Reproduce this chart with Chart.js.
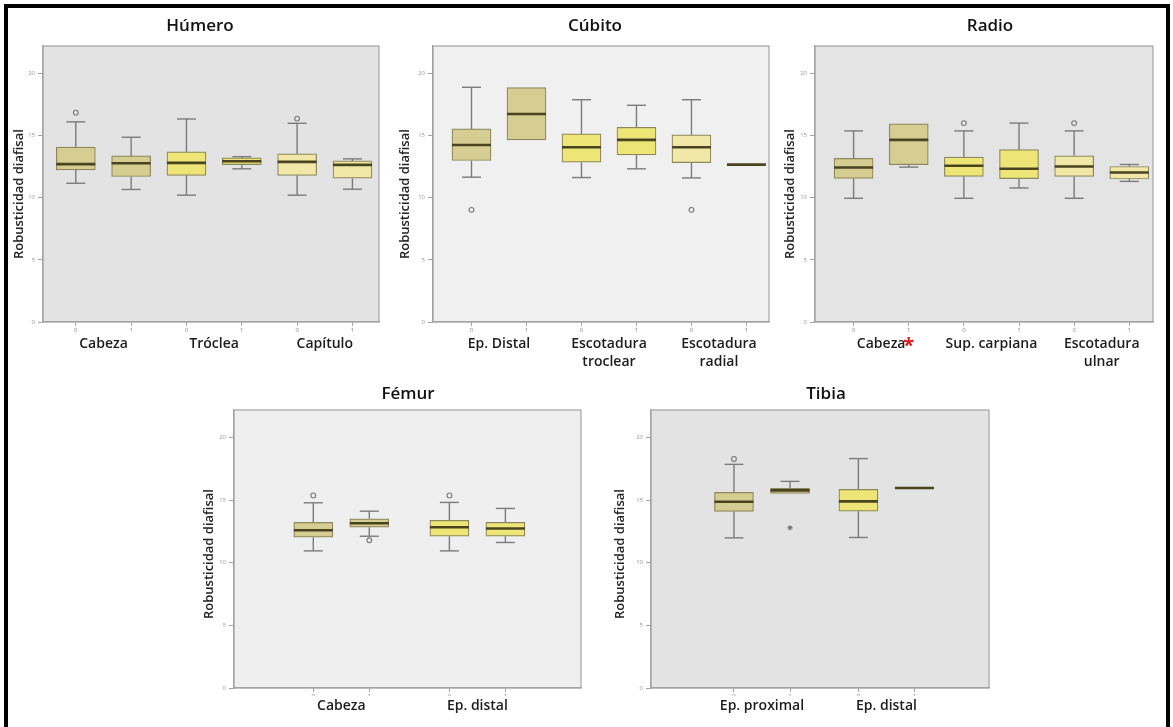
<!DOCTYPE html>
<html>
<head>
<meta charset="utf-8">
<script src="https://cdn.jsdelivr.net/npm/chart.js@4"></script>
<style>
html,body{margin:0;padding:0;background:#fff;width:1173px;height:727px;overflow:hidden;position:relative}
#frame{position:absolute;left:4px;top:4px;width:1166px;height:760px;border:4px solid #000;box-sizing:border-box}
canvas{position:absolute}
</style>
</head>
<body>
<div id="frame"></div>
<canvas id="humero" width="410" height="362" style="left:-5px;top:10px"></canvas>
<canvas id="cubito" width="406" height="362" style="left:392px;top:10px"></canvas>
<canvas id="radio" width="416" height="362" style="left:782px;top:10px"></canvas>
<canvas id="femur" width="424" height="352" style="left:196px;top:374px"></canvas>
<canvas id="tibia" width="432" height="352" style="left:610px;top:374px"></canvas>
<script>
// ---------------- DATA ----------------
const Y_TICKS = [0, 5, 10, 15, 20];
const CODES = ['0', '1'];
const Y_TITLE = 'Robusticidad diafisal';

// Húmero (per group: code 0, code 1)
const humeroGroups = ['Cabeza', 'Tróclea', 'Capítulo'];
const humeroLow    = [11.16, 10.66, 10.20, 12.32, 10.20, 10.68];
const humeroQ1     = [12.24, 11.70, 11.80, 12.66, 11.80, 11.57];
const humeroMedian = [12.70, 12.77, 12.80, 12.93, 12.88, 12.64];
const humeroQ3     = [14.06, 13.36, 13.68, 13.20, 13.52, 12.96];
const humeroHigh   = [16.10, 14.86, 16.33, 13.30, 15.98, 13.12];
const humeroOutliers = [[16.84], [], [], [], [16.36], []];

// Cúbito
const cubitoGroups = ['Ep. Distal', ['Escotadura', 'troclear'], ['Escotadura', 'radial']];
const cubitoLow    = [11.65, 14.65, 11.62, 12.32, 11.59, 12.66];
const cubitoQ1     = [12.99, 14.65, 12.85, 13.44, 12.82, 12.66];
const cubitoMedian = [14.24, 16.73, 14.06, 14.65, 14.06, 12.66];
const cubitoQ3     = [15.53, 18.85, 15.13, 15.66, 15.05, 12.66];
const cubitoHigh   = [18.88, 18.85, 17.88, 17.43, 17.88, 12.66];
const cubitoOutliers = [[9.02], [], [], [], [9.02], []];

// Radio
const radioGroups = ['Cabeza', 'Sup. carpiana', ['Escotadura', 'ulnar']];
const radioSignificant = [true, false, false];
const radioLow    = [9.95, 12.46, 9.95, 10.78, 9.95, 11.31];
const radioQ1     = [11.55, 12.65, 11.71, 11.53, 11.71, 11.50];
const radioMedian = [12.43, 14.65, 12.57, 12.33, 12.51, 12.03];
const radioQ3     = [13.16, 15.94, 13.26, 13.86, 13.37, 12.51];
const radioHigh   = [15.37, 15.94, 15.37, 16.00, 15.37, 12.67];
const radioOutliers = [[], [], [16.0], [], [16.0], []];

// Fémur
const femurGroups = ['Cabeza', 'Ep. distal'];
const femurLow    = [10.95, 12.12, 10.95, 11.62];
const femurQ1     = [12.04, 12.84, 12.12, 12.12];
const femurMedian = [12.60, 13.16, 12.84, 12.74];
const femurQ3     = [13.22, 13.51, 13.38, 13.22];
const femurHigh   = [14.79, 14.12, 14.82, 14.34];
const femurOutliers = [[15.38], [11.8], [15.38], []];

// Tibia
const tibiaGroups = ['Ep. proximal', 'Ep. distal'];
const tibiaLow    = [11.99, 15.54, 12.02, 15.97];
const tibiaQ1     = [14.10, 15.54, 14.12, 15.97];
const tibiaMedian = [14.87, 15.78, 14.90, 15.97];
const tibiaQ3     = [15.62, 15.94, 15.86, 15.97];
const tibiaHigh   = [17.86, 16.50, 18.32, 15.97];
const tibiaOutliers = [[18.29], [], [], []];
const tibiaExtremes = [[], [12.79], [], []];

// ---------------- STYLE ----------------
const KHAKI = '#d5cd91', YELLOW = '#ede677', PALE = '#f1e8a8';
const BOX_BORDER = '#8c875c', MEDIAN = '#4a4320', WHISKER = '#7b7b7b', AXIS = '#a3a3a3';
const FONT = "'Open Sans', 'DejaVu Sans', sans-serif";

const panels = [
  {id:'humero', title:'Húmero', groups:humeroGroups, low:humeroLow, q1:humeroQ1, med:humeroMedian, q3:humeroQ3, high:humeroHigh, out:humeroOutliers,
   step:2, xMin:-0.593, xMax:5.48, yWidth:48, rightPad:26, yTitlePad:16.2, titleTop:5.8, titleBottom:9.8, xH:12, x2H:38, yShift:6, bg:'#e3e3e3', colors:[KHAKI, YELLOW, PALE]},
  {id:'cubito', title:'Cúbito', groups:cubitoGroups, low:cubitoLow, q1:cubitoQ1, med:cubitoMedian, q3:cubitoQ3, high:cubitoHigh, out:cubitoOutliers,
   step:2, xMin:-0.70, xMax:5.41, yWidth:41, rightPad:29, yTitlePad:5.7, titleTop:5.8, titleBottom:9.8, xH:12, x2H:38, yShift:6, bg:'#f0f0f0', colors:[KHAKI, YELLOW, PALE]},
  {id:'radio', title:'Radio', groups:radioGroups, low:radioLow, q1:radioQ1, med:radioMedian, q3:radioQ3, high:radioHigh, out:radioOutliers, marked:radioSignificant,
   step:2, xMin:-0.70, xMax:5.43, yWidth:33, rightPad:45, yTitlePad:0.7, titleTop:5.8, titleBottom:9.8, xH:12, x2H:38, yShift:6, bg:'#e4e4e4', colors:[KHAKI, YELLOW, PALE]},
  {id:'femur', title:'Fémur', groups:femurGroups, low:femurLow, q1:femurQ1, med:femurMedian, q3:femurQ3, high:femurHigh, out:femurOutliers,
   step:2.43, xMin:-1.416, xMax:4.78, yWidth:38, rightPad:39, yTitlePad:5.7, titleTop:9.8, titleBottom:5.8, xH:8, x2H:30, yShift:3, bg:'#efefef', colors:[KHAKI, YELLOW]},
  {id:'tibia', title:'Tibia', groups:tibiaGroups, low:tibiaLow, q1:tibiaQ1, med:tibiaMedian, q3:tibiaQ3, high:tibiaHigh, out:tibiaOutliers, ext:tibiaExtremes,
   step:2.22, xMin:-1.48, xMax:4.55, yWidth:41, rightPad:53, yTitlePad:2.2, titleTop:9.8, titleBottom:5.8, xH:8, x2H:30, yShift:3, bg:'#e3e3e3', colors:[KHAKI, YELLOW]}
];

const plotFrame = {
  id: 'plotFrame',
  beforeDraw(chart, args, opts) {
    const {ctx, chartArea: a} = chart;
    ctx.save();
    ctx.fillStyle = opts.bg;
    ctx.fillRect(a.left, a.top, a.right - a.left, a.bottom - a.top);
    ctx.restore();
  },
  afterDraw(chart, args, opts) {
    const {ctx, chartArea: a} = chart;
    ctx.save();
    ctx.strokeStyle = AXIS;
    ctx.lineWidth = 1.2;
    ctx.strokeRect(a.left, a.top, a.right - a.left, a.bottom - a.top);
    ctx.restore();
  }
};

function build(p) {
  const xs = p.q1.map((_, i) => Math.floor(i / 2) * p.step + (i % 2));
  const boxes = xs.map((x, i) => ({x, y: p.q3[i] > p.q1[i] ? [p.q1[i], p.q3[i]] : null}));
  const boxColors = xs.map((_, i) => p.colors[Math.floor(i / 2)]);
  const medians = xs.map((x, i) => ({x, y: p.med[i]}));
  const whiskers = [], caps = [], outliers = [], extremes = [];
  xs.forEach((x, i) => {
    if (p.high[i] > p.q3[i]) { whiskers.push({x, y: p.q3[i]}, {x, y: p.high[i]}, {x, y: null}); caps.push({x, y: p.high[i]}); }
    if (p.low[i] < p.q1[i]) { whiskers.push({x, y: p.q1[i]}, {x, y: p.low[i]}, {x, y: null}); caps.push({x, y: p.low[i]}); }
    (p.out[i] || []).forEach(v => outliers.push({x, y: v}));
    if (p.ext) (p.ext[i] || []).forEach(v => extremes.push({x, y: v}));
  });

  // group label ticks (+ significance mark)
  const groupTicks = p.groups.map((g, k) => ({value: k * p.step + 0.5, text: g}));
  if (p.marked) p.marked.forEach((m, k) => { if (m) groupTicks.push({value: k * p.step + 1, text: '*'}); });
  groupTicks.sort((a, b) => a.value - b.value);

  const datasets = [
    {type: 'line', data: whiskers, borderColor: WHISKER, borderWidth: 1.4, pointRadius: 0, spanGaps: false, order: 5},
    {type: 'line', data: caps, showLine: false, pointStyle: 'line', pointRadius: 9.5, pointBorderWidth: 1.4, pointBorderColor: WHISKER, order: 4},
    {type: 'bar', data: boxes, backgroundColor: boxColors, borderColor: BOX_BORDER, borderWidth: 1.2, borderSkipped: false, barThickness: 39, order: 3},
    {type: 'line', data: medians, showLine: false, pointStyle: 'line', pointRadius: 19.5, pointBorderWidth: 2.6, pointBorderColor: MEDIAN, order: 2},
    {type: 'line', data: outliers, showLine: false, pointStyle: 'circle', pointRadius: 2.4, pointBorderWidth: 1.1, pointBorderColor: '#777', pointBackgroundColor: 'rgba(0,0,0,0)', order: 1},
    {type: 'line', data: extremes, showLine: false, pointStyle: 'star', pointRadius: 2.6, pointBorderWidth: 1, pointBorderColor: '#666', order: 1}
  ];

  new Chart(document.getElementById(p.id), {
    type: 'bar',
    data: {datasets},
    plugins: [plotFrame],
    options: {
      responsive: false,
      animation: false,
      devicePixelRatio: 1,
      events: [],
      layout: {padding: 0},
      plugins: {
        legend: {display: false},
        tooltip: {enabled: false},
        plotFrame: {bg: p.bg},
        title: {
          display: true, text: p.title, color: '#111',
          font: {family: FONT, size: 17, weight: '600'},
          padding: {top: p.titleTop, bottom: p.titleBottom}
        }
      },
      scales: {
        y: {
          type: 'linear', position: 'left', min: 0, max: 22.2,
          afterBuildTicks: s => { s.ticks = Y_TICKS.map(v => ({value: v})); },
          afterFit: s => { s.width = p.yWidth; },
          grid: {drawOnChartArea: false, drawTicks: true, tickLength: 5, color: AXIS},
          border: {display: true, color: AXIS, width: 1.2},
          ticks: {font: {family: FONT, size: 6}, color: '#999', padding: 3},
          title: {display: true, text: Y_TITLE + ' '.repeat(p.yShift), color: '#222',
                  font: {family: FONT, size: 13, weight: '600'}, padding: {top: p.yTitlePad, bottom: 0}}
        },
        yR: {
          type: 'linear', position: 'right', display: true,
          grid: {display: false, drawTicks: false}, border: {display: false}, ticks: {display: false},
          afterFit: s => { s.width = p.rightPad; }
        },
        x: {
          type: 'linear', position: 'bottom', weight: 1, min: p.xMin, max: p.xMax, offset: false,
          afterBuildTicks: s => { s.ticks = xs.map(v => ({value: v})); },
          afterFit: s => { s.height = p.xH; },
          grid: {drawOnChartArea: false, drawTicks: true, tickLength: 4, color: AXIS, offset: false},
          border: {display: true, color: AXIS, width: 1.2},
          ticks: {autoSkip: false, maxRotation: 0, minRotation: 0, font: {family: FONT, size: 6}, color: '#888', padding: 1,
                  callback: (v, i) => CODES[i % 2]}
        },
        x2: {
          type: 'linear', position: 'bottom', weight: 2, min: p.xMin, max: p.xMax, offset: false,
          afterBuildTicks: s => { s.ticks = groupTicks.map(t => ({value: t.value})); },
          afterFit: s => { s.height = p.x2H; },
          grid: {display: false, drawTicks: false, offset: false},
          border: {display: false},
          ticks: {
            autoSkip: false, maxRotation: 0, minRotation: 0, padding: 0.6,
            callback: (v, i) => groupTicks[i].text,
            color: c => (c.tick && c.tick.label === '*') ? '#e0161b' : '#1c1c1c',
            font: c => (c.tick && c.tick.label === '*') ? {family: FONT, size: 20, weight: '700'} : {family: FONT, size: 14, weight: '600', lineHeight: 1.3}
          }
        }
      }
    }
  });
}

panels.forEach(build);
</script>
</body>
</html>
